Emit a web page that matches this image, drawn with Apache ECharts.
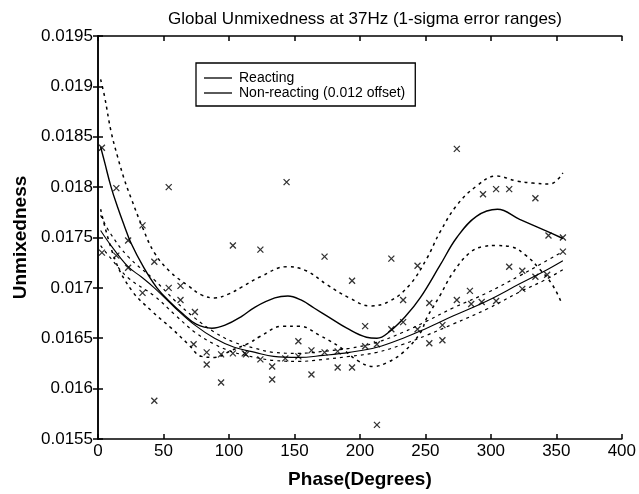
<!DOCTYPE html>
<html>
<head>
<meta charset="utf-8">
<script src="https://cdn.jsdelivr.net/npm/echarts@6/dist/echarts.min.js"></script>
<style>
  html, body { margin: 0; padding: 0; background: #fff; }
  #chart { width: 639px; height: 494px; }
</style>
</head>
<body>
<div id="chart"></div>
<script>
// reacting case: fitted curve and 1-sigma band
const reactMean = [[2,0.01840],[5,0.01825],[10,0.01800],[15,0.01780],[20,0.01762],[25,0.01745],[35,0.01720],[45,0.01700],[55,0.01686],[65,0.01674],[75,0.01664],[87,0.01660],[97,0.01663],[110,0.01672],[120,0.01681],[135,0.01690],[145,0.01692],[155,0.01688],[165,0.01680],[175,0.01672],[190,0.01660],[205,0.01651],[213,0.01650],[223,0.01657],[235,0.01672],[246,0.01690],[261,0.01722],[274,0.01750],[289,0.01771],[305,0.01778],[322,0.01768],[343,0.01756],[355,0.01749]];
const reactUpper = [[2,0.01907],[5,0.01890],[10,0.01855],[15,0.01830],[20,0.01808],[25,0.01790],[34,0.01760],[43,0.01735],[55,0.01716],[69,0.01702],[79,0.01693],[89,0.01690],[100,0.01694],[110,0.01701],[124,0.01711],[144,0.01721],[159,0.01717],[175,0.01703],[192,0.01690],[208,0.01682],[223,0.01687],[238,0.01703],[251,0.01729],[261,0.01755],[274,0.01782],[289,0.01801],[304,0.01811],[320,0.01806],[332,0.01804],[345,0.01803],[355,0.01814]];
const reactLower = [[2,0.01778],[13,0.01728],[26,0.01697],[41,0.01677],[56,0.01660],[69,0.01644],[79,0.01632],[89,0.01631],[102,0.01638],[115,0.01645],[124,0.01652],[141,0.01662],[154,0.01662],[169,0.01653],[185,0.01641],[198,0.01628],[210,0.01622],[221,0.01626],[233,0.01636],[246,0.01655],[251,0.01670],[261,0.01692],[271,0.01715],[284,0.01735],[294,0.01741],[304,0.01742],[315,0.01741],[327,0.01732],[337,0.01719],[347,0.01703],[354,0.01685]];

// non-reacting case (0.012 offset): fitted curve and 1-sigma band
const nonMean = [[2,0.01757],[10,0.01742],[23,0.01721],[33,0.01711],[43,0.01700],[59,0.01680],[74,0.01663],[89,0.01650],[104,0.01641],[120,0.01636],[134,0.01632],[153,0.01631],[172,0.01633],[192,0.01636],[213,0.01641],[233,0.01650],[251,0.01660],[271,0.01672],[297,0.01687],[322,0.01704],[340,0.01716],[355,0.01727]];
const nonUpper = [[2,0.01772],[10,0.01753],[23,0.01731],[43,0.01708],[59,0.01687],[74,0.01670],[89,0.01656],[104,0.01646],[120,0.01640],[134,0.01636],[153,0.01635],[172,0.01637],[192,0.01640],[213,0.01646],[233,0.01656],[251,0.01667],[271,0.01680],[297,0.01695],[322,0.01712],[340,0.01725],[355,0.01736]];
const nonLower = [[2,0.01742],[10,0.01729],[23,0.01710],[43,0.01692],[59,0.01673],[74,0.01656],[89,0.01644],[104,0.01636],[120,0.01631],[134,0.01628],[153,0.01627],[172,0.01629],[192,0.01632],[213,0.01636],[233,0.01644],[251,0.01653],[271,0.01664],[297,0.01679],[322,0.01696],[340,0.01707],[355,0.01718]];

// measured points (x markers)
const samples = [[3,0.01839],[14,0.01799],[54,0.01800],[34,0.01762],[23,0.01747],[103,0.01742],[3,0.01735],[14,0.01732],[43,0.01726],[23,0.01720],[54,0.01700],[63,0.01702],[63,0.01688],[34,0.01695],[74,0.01676],[73,0.01644],[83,0.01636],[83,0.01624],[94,0.01634],[94,0.01606],[103,0.01635],[113,0.01634],[43,0.01588],[144,0.01805],[124,0.01738],[173,0.01731],[224,0.01729],[244,0.01722],[194,0.01707],[233,0.01688],[253,0.01685],[204,0.01662],[224,0.01659],[233,0.01666],[153,0.01647],[253,0.01645],[274,0.01838],[294,0.01793],[304,0.01798],[314,0.01798],[334,0.01789],[344,0.01752],[355,0.01750],[355,0.01736],[314,0.01721],[324,0.01717],[334,0.01711],[343,0.01713],[284,0.01697],[274,0.01688],[304,0.01687],[293,0.01686],[285,0.01684],[324,0.01699],[263,0.01663],[263,0.01648],[244,0.01659],[112,0.01635],[124,0.01629],[133,0.01622],[133,0.01609],[143,0.01630],[153,0.01632],[163,0.01638],[163,0.01614],[173,0.01636],[183,0.01637],[183,0.01621],[194,0.01621],[204,0.01642],[213,0.01644],[213,0.01564]];

const chart = echarts.init(document.getElementById("chart"), null, { renderer: "canvas" });

const font = "'Liberation Sans', Arial, sans-serif";
const tickFmt = (v) => String(parseFloat(v.toFixed(4)));

function curve(name, data, width, dashed) {
  return {
    name: name,
    type: "line",
    data: data,
    smooth: 0.4,
    symbol: "none",
    silent: true,
    itemStyle: { color: "#000" },
    lineStyle: {
      color: "#000",
      width: width,
      type: dashed ? [3, 4] : "solid",
    },
    z: 3,
  };
}

const option = {
  animation: false,
  backgroundColor: "#fff",
  title: {
    text: "Global Unmixedness at 37Hz (1-sigma error ranges)",
    left: 360,
    top: 6,
    textAlign: "center",
    textStyle: { fontFamily: font, fontSize: 17, fontWeight: "normal", color: "#000" },
  },
  legend: {
    orient: "vertical",
    left: 196,
    top: 63,
    padding: [8, 10, 6, 8],
    itemGap: 1,
    itemWidth: 28,
    itemHeight: 1.3,
    icon: "rect",
    borderColor: "#000",
    borderWidth: 1.3,
    backgroundColor: "#fff",
    textStyle: { fontFamily: font, fontSize: 14, color: "#000", padding: [0, 0, 0, 2] },
    data: ["Reacting", "Non-reacting (0.012 offset)"],
  },
  grid: { left: 98, right: 17, top: 36, bottom: 52 },
  xAxis: [
    {
      type: "value",
      min: 0,
      max: 400,
      interval: 50,
      name: "Phase(Degrees)",
      nameLocation: "middle",
      nameGap: 31,
      nameTextStyle: { fontFamily: font, fontSize: 19, fontWeight: "bold", color: "#000" },
      axisLine: { lineStyle: { color: "#000", width: 1.5 } },
      axisTick: { inside: true, length: 5, lineStyle: { color: "#000", width: 1.5 } },
      axisLabel: { fontFamily: font, fontSize: 17, color: "#000", margin: 4 },
      splitLine: { show: false },
    },
    {
      type: "value",
      position: "top",
      min: 0,
      max: 400,
      interval: 50,
      axisLine: { lineStyle: { color: "#000", width: 1.5 } },
      axisTick: { inside: true, length: 5, lineStyle: { color: "#000", width: 1.5 } },
      axisLabel: { show: false },
      splitLine: { show: false },
    },
  ],
  yAxis: [
    {
      type: "value",
      min: 0.0155,
      max: 0.0195,
      interval: 0.0005,
      name: "Unmixedness",
      nameLocation: "middle",
      nameGap: 60,
      nameTextStyle: { fontFamily: font, fontSize: 19, fontWeight: "bold", color: "#000" },
      axisLine: { lineStyle: { color: "#000", width: 1.5 } },
      axisTick: { inside: true, length: 5, lineStyle: { color: "#000", width: 1.5 } },
      axisLabel: { fontFamily: font, fontSize: 17, color: "#000", margin: 5, formatter: tickFmt },
      splitLine: { show: false },
    },
    {
      type: "value",
      position: "right",
      min: 0.0155,
      max: 0.0195,
      interval: 0.0005,
      axisLine: { lineStyle: { color: "#000", width: 1.5 } },
      axisTick: { inside: true, length: 5, lineStyle: { color: "#000", width: 1.5 } },
      axisLabel: { show: false },
      splitLine: { show: false },
    },
  ],
  series: [
    curve("Reacting", reactMean, 1.4, false),
    curve("Reacting upper", reactUpper, 1.5, true),
    curve("Reacting lower", reactLower, 1.5, true),
    curve("Non-reacting (0.012 offset)", nonMean, 1.1, false),
    curve("Non-reacting upper", nonUpper, 1.2, true),
    curve("Non-reacting lower", nonLower, 1.2, true),
    {
      name: "Samples",
      type: "scatter",
      data: samples,
      symbol: "path://M0,0L10,10M10,0L0,10",
      symbolSize: 6,
      itemStyle: { color: "rgba(0,0,0,0)", borderColor: "#000", borderWidth: 1.3 },
      z: 4,
    },
  ],
};

chart.setOption(option);
</script>
</body>
</html>
